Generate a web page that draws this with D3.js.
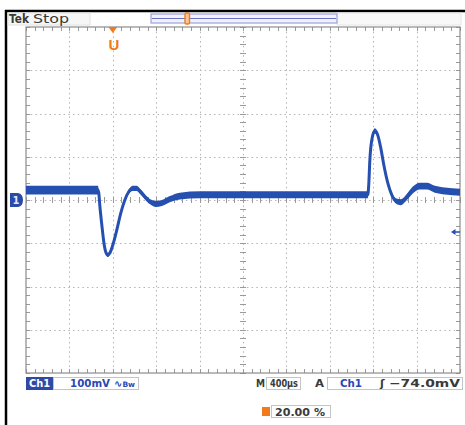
<!DOCTYPE html>
<html>
<head>
<meta charset="utf-8">
<script src="https://cdn.jsdelivr.net/npm/d3@7"></script>
<style>
  html, body { margin: 0; padding: 0; background: #fff; }
  svg { display: block; font-family: "DejaVu Sans", "Liberation Sans", sans-serif; }
</style>
</head>
<body>
<svg id="scope" width="465" height="425"></svg>
<script>
// Channel 1 capture, time relative to trigger point (µs) and voltage (mV)
const timeUs = [-800, -488, -138, -129, -120, -101, -83, -65, -46, -28, 0, 37, 74, 111, 147, 184, 221, 258, 304, 350, 396, 452, 525, 618, 802, 1263, 1724, 2184, 2350, 2359, 2369, 2387, 2415, 2442, 2470, 2498, 2535, 2571, 2608, 2654, 2710, 2765, 2829, 2894, 2968, 3060, 3200];
const voltsMv = [23, 23, 23, 16, -12, -58, -97, -120, -127, -123, -104, -69, -30, 0, 19, 27, 27, 18, 5, -5, -9, -7, 2, 9, 12, 12, 12, 12, 12, 35, 92, 139, 160, 150, 120, 81, 39, 12, -2, -5, 7, 23, 32, 32, 25, 21, 18];
// half-width of the noise band around the trace (mV)
const noiseMv = [10, 10, 10, 6, 3, 3, 3, 4, 5, 4, 3, 3, 3, 4, 5, 6, 6, 6, 6, 6, 7, 7, 7, 8, 8, 8, 8, 8, 8, 3, 3, 4, 6, 5, 4, 3, 3, 4, 6, 7, 7, 8, 8, 8, 8, 8, 8];

// Display settings
const timeDomain = [-800, 3200];   // 10 div x 400 µs
const voltDomain = [-400, 400];    // 8 div x 100 mV
const voltsPerDiv = "100mV";
const timePerDiv = "400µs";
const triggerSource = "Ch1";
const triggerLevel = "−74.0mV";
const triggerLevelMv = -74;
const horizPosition = "20.00 %";
const statusText = ["Tek", "Stop"];

const svg = d3.select("#scope");
const x = d3.scaleLinear().domain(timeDomain).range([26, 460]);
const y = d3.scaleLinear().domain(voltDomain).range([373, 27]);

const traceBlue = "#2550b0";
const orange = "#f07a1c";
const readoutGrey = "#3a3a3a";
const readoutBlue = "#2a48b0";

// fitted readout text
function label(px, py, str, width, opts = {}) {
  const t = svg.append("text").attr("x", px).attr("y", py)
    .attr("font-size", opts.size || 10).attr("font-weight", opts.weight || "bold")
    .attr("fill", opts.fill || readoutGrey).text(str);
  if (width) t.attr("textLength", width).attr("lengthAdjust", "spacingAndGlyphs");
  return t;
}

// Outer frame
svg.append("line").attr("x1", 6).attr("x2", 6).attr("y1", 10).attr("y2", 425)
  .attr("stroke", "#000").attr("stroke-width", 2.5);
svg.append("line").attr("x1", 5).attr("x2", 465).attr("y1", 11).attr("y2", 11)
  .attr("stroke", "#000").attr("stroke-width", 2.5);

// Status bar
svg.append("rect").attr("x", 8).attr("y", 13).attr("width", 82).attr("height", 12)
  .attr("fill", "#f6f6f6").attr("stroke", "#e2e2e2");
label(9, 23, statusText[0], 20, { size: 12, weight: "bold" });
label(33, 23, statusText[1], 36, { size: 12, weight: "normal" });
svg.append("rect").attr("x", 337).attr("y", 13).attr("width", 124).attr("height", 12)
  .attr("fill", "#f8f8f8").attr("stroke", "#e6e6e6");

// Record view bar
svg.append("rect").attr("x", 151).attr("y", 14).attr("width", 186).attr("height", 9)
  .attr("fill", "#f0f1fb").attr("stroke", "#8a90d4").attr("stroke-width", 1);
svg.append("line").attr("x1", 152).attr("x2", 336).attr("y1", 18.5).attr("y2", 18.5)
  .attr("stroke", "#6a72c8").attr("stroke-width", 1.2);
svg.append("rect").attr("x", 185).attr("y", 13).attr("width", 4.5).attr("height", 11).attr("rx", 1.5)
  .attr("fill", "#f8c89a").attr("stroke", orange).attr("stroke-width", 1.4);

// Graticule
const g = svg.append("g");
const xDivs = d3.range(timeDomain[0], timeDomain[1] + 1, 400);
const yDivs = d3.range(voltDomain[0], voltDomain[1] + 1, 100);
const gridColor = "#b4b4b4";

g.selectAll("line.vgrid").data(xDivs.slice(1, -1)).join("line")
  .attr("x1", d => Math.round(x(d)) + 0.5).attr("x2", d => Math.round(x(d)) + 0.5)
  .attr("y1", y(voltDomain[1])).attr("y2", y(voltDomain[0]))
  .attr("stroke", gridColor).attr("stroke-dasharray", "1.5,3.2");
g.selectAll("line.hgrid").data(yDivs.slice(1, -1)).join("line")
  .attr("y1", d => Math.round(y(d)) + 0.5).attr("y2", d => Math.round(y(d)) + 0.5)
  .attr("x1", x(timeDomain[0])).attr("x2", x(timeDomain[1]))
  .attr("stroke", gridColor).attr("stroke-dasharray", "1.5,3.2");

// Minor ticks every 1/5 division along borders and centre lines
const xMinor = d3.range(timeDomain[0], timeDomain[1] + 1, 80);
const yMinor = d3.range(voltDomain[0], voltDomain[1] + 1, 20);
const tickColor = "#9a9a9a";
const xc = x(1200), yc = y(0);
xMinor.forEach(t => {
  const px = Math.round(x(t)) + 0.5;
  [[y(voltDomain[1]), y(voltDomain[1]) + 4], [y(voltDomain[0]) - 4, y(voltDomain[0])], [yc - 3, yc + 3]]
    .forEach(([a, b]) => g.append("line").attr("x1", px).attr("x2", px).attr("y1", a).attr("y2", b)
      .attr("stroke", tickColor));
});
yMinor.forEach(v => {
  const py = Math.round(y(v)) + 0.5;
  [[x(timeDomain[0]), x(timeDomain[0]) + 4], [x(timeDomain[1]) - 4, x(timeDomain[1])], [xc - 3, xc + 3]]
    .forEach(([a, b]) => g.append("line").attr("y1", py).attr("y2", py).attr("x1", a).attr("x2", b)
      .attr("stroke", tickColor));
});
g.append("rect").attr("x", x(timeDomain[0])).attr("y", y(voltDomain[1]))
  .attr("width", x(timeDomain[1]) - x(timeDomain[0])).attr("height", y(voltDomain[0]) - y(voltDomain[1]))
  .attr("fill", "none").attr("stroke", "#8c8c8c").attr("stroke-width", 1.2);

// Trace: noise band plus centre line
const pts = timeUs.map((t, i) => ({ t, v: voltsMv[i], n: noiseMv[i] }));
svg.append("path").datum(pts)
  .attr("d", d3.area().x(d => x(d.t)).y0(d => y(d.v - d.n)).y1(d => y(d.v + d.n)).curve(d3.curveMonotoneX))
  .attr("fill", traceBlue);
svg.append("path").datum(pts)
  .attr("d", d3.line().x(d => x(d.t)).y(d => y(d.v)).curve(d3.curveMonotoneX))
  .attr("fill", "none").attr("stroke", traceBlue).attr("stroke-width", 3).attr("stroke-linejoin", "round");

// Trigger position marker
const tx = x(0);
svg.append("path").attr("d", `M${tx - 4.5},27 L${tx + 4.5},27 L${tx},33 Z`).attr("fill", orange);
svg.append("text").attr("x", tx + 1).attr("y", 50).attr("text-anchor", "middle")
  .attr("font-family", "Liberation Sans, sans-serif")
  .attr("font-size", 15).attr("font-weight", "bold").attr("fill", orange).text("U");

// Channel 1 ground marker
const gy = y(0);
svg.append("path").attr("d", `M10,${gy - 7} L18,${gy - 7} Q23,${gy - 6} 23,${gy} Q23,${gy + 6} 18,${gy + 7} L10,${gy + 7} Z`)
  .attr("fill", "#2a4aa8");
svg.append("text").attr("x", 16).attr("y", gy + 4).attr("text-anchor", "middle")
  .attr("font-size", 10).attr("font-weight", "bold").attr("fill", "#dfe5ff").text("1");

// Trigger level marker
const ty = y(triggerLevelMv);
svg.append("path").attr("d", `M451,${ty} L455.5,${ty - 3} L455.5,${ty + 3} Z`).attr("fill", traceBlue);
svg.append("line").attr("x1", 455).attr("x2", 460).attr("y1", ty).attr("y2", ty)
  .attr("stroke", traceBlue).attr("stroke-width", 1.5);

// Readouts
const ry = 377, rh = 13, by = ry + 10;
svg.append("rect").attr("x", 26).attr("y", ry).attr("width", 27).attr("height", rh).attr("fill", "#2c4aa6");
label(29, by, "Ch1", 21, { fill: "#fff" });
svg.append("rect").attr("x", 53.5).attr("y", ry + 0.5).attr("width", 85).attr("height", rh - 1)
  .attr("fill", "#fff").attr("stroke", "#c4c4c4");
label(70, by, voltsPerDiv, 40, { fill: readoutBlue });
const cp = svg.append("text").attr("x", 114).attr("y", by).attr("font-size", 10).attr("font-weight", "bold").attr("fill", readoutBlue);
cp.append("tspan").text("∿");
cp.append("tspan").attr("font-size", 7.5).text("Bw");

label(256, by, "M", 9);
svg.append("rect").attr("x", 266.5).attr("y", ry + 0.5).attr("width", 34).attr("height", rh - 1)
  .attr("fill", "#fff").attr("stroke", "#c4c4c4");
label(270, by, timePerDiv, 28);
label(315, by, "A", 9);
svg.append("rect").attr("x", 327.5).attr("y", ry + 0.5).attr("width", 135).attr("height", rh - 1)
  .attr("fill", "#fff").attr("stroke", "#c4c4c4");
label(340, by, triggerSource, 22, { fill: readoutBlue });
label(380, by, "ʃ", null, { size: 11 });
label(389, by, triggerLevel, 71);

// Horizontal position readout
svg.append("rect").attr("x", 262).attr("y", 407).attr("width", 8).attr("height", 9).attr("fill", orange);
svg.append("rect").attr("x", 271.5).attr("y", 405.5).attr("width", 59).attr("height", 12)
  .attr("fill", "#fff").attr("stroke", "#c4c4c4");
label(275, 415.5, horizPosition, 50);
</script>
</body>
</html>
